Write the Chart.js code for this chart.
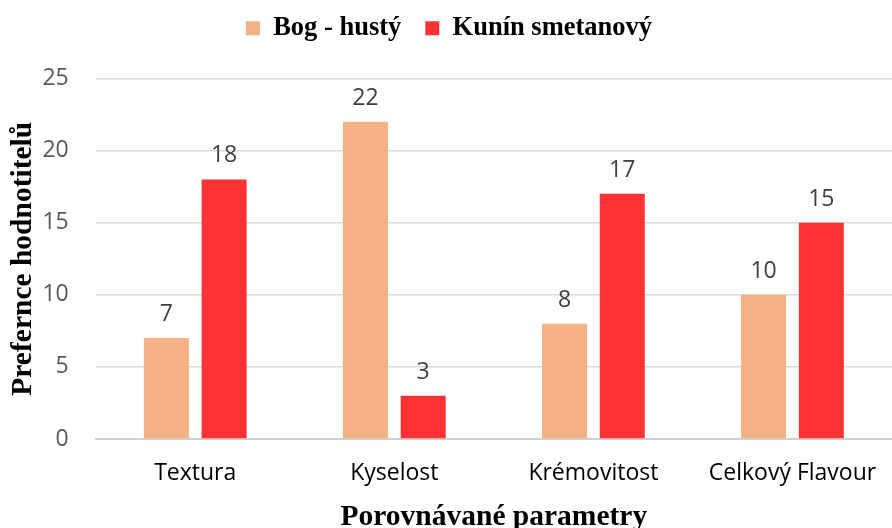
<!DOCTYPE html>
<html lang="cs">
<head>
    <meta charset="UTF-8">
    <title>Preference hodnotitelů</title>
    <script src="https://cdn.jsdelivr.net/npm/chart.js"></script>
    <style>
        html, body { margin: 0; padding: 0; background: #fff; }
        #wrap { width: 892px; height: 528px; }
    </style>
</head>
<body>

<div id="wrap"><canvas id="myChart"></canvas></div>

<script>
const categories = ['Textura', 'Kyselost', 'Krémovitost', 'Celkový Flavour'];
const bogValues = [7, 22, 8, 10];
const kuninValues = [18, 3, 17, 15];
const yTicks = [0, 5, 10, 15, 20, 25];

const sansFont = "'Open Sans', 'Noto Sans', sans-serif";
const serifFont = "'Liberation Serif', 'Times New Roman', serif";

// value labels above bars (no datalabels plugin offline)
const valueLabels = {
    id: 'valueLabels',
    afterDatasetsDraw(chart) {
        const ctx = chart.ctx;
        ctx.save();
        ctx.font = '23px ' + sansFont;
        ctx.fillStyle = '#404040';
        ctx.textAlign = 'center';
        ctx.textBaseline = 'alphabetic';
        chart.data.datasets.forEach((ds, i) => {
            chart.getDatasetMeta(i).data.forEach((bar, j) => {
                ctx.fillText(ds.data[j], bar.x, bar.y - 17);
            });
        });
        ctx.restore();
    }
};

// more room under the legend
const legendGap = {
    id: 'legendGap',
    beforeInit(chart) {
        const fit = chart.legend.fit;
        chart.legend.fit = function () {
            fit.bind(chart.legend)();
            this.height += 27;
        };
    }
};

const ctx = document.getElementById('myChart').getContext('2d');
const chart = new Chart(ctx, {
    type: 'bar',
    data: {
        labels: categories,
        datasets: [{
            label: 'Bog - hustý',
            data: bogValues,
            backgroundColor: '#F4B183',
            categoryPercentage: 0.58,
            barPercentage: 0.78
        }, {
            label: 'Kunín smetanový',
            data: kuninValues,
            backgroundColor: '#FF3333',
            categoryPercentage: 0.58,
            barPercentage: 0.78
        }]
    },
    options: {
        responsive: true,
        maintainAspectRatio: false,
        animation: false,
        layout: { padding: { top: -9, right: 0, left: 6, bottom: 0 } },
        plugins: {
            legend: {
                position: 'top',
                labels: {
                    boxWidth: 14,
                    boxHeight: 14,
                    padding: 24,
                    color: '#000',
                    font: { family: serifFont, size: 26.5, weight: 'bold' }
                }
            },
            tooltip: { enabled: false }
        },
        scales: {
            x: {
                // invisible tick marks keep the labels away from the axis
                grid: {
                    drawOnChartArea: false,
                    drawTicks: true,
                    tickLength: 11,
                    tickColor: 'rgba(0,0,0,0)'
                },
                border: { color: '#d0d0d0', width: 2 },
                ticks: {
                    color: '#000',
                    padding: 10,
                    font: { family: sansFont, size: 23 }
                },
                title: {
                    display: true,
                    text: 'Porovnávané parametry',
                    color: '#000',
                    padding: { top: 2, bottom: -7 },
                    font: { family: serifFont, size: 29.5, weight: 'bold' }
                }
            },
            y: {
                min: 0,
                max: 25,
                afterBuildTicks: axis => { axis.ticks = yTicks.map(v => ({ value: v })); },
                grid: { color: '#d9d9d9', lineWidth: 1.5, drawTicks: false },
                border: { display: false },
                ticks: {
                    color: '#595959',
                    padding: 27,
                    font: { family: sansFont, size: 23 }
                },
                title: {
                    display: true,
                    text: 'Prefernce hodnotitelů',
                    color: '#000',
                    padding: { top: 0, bottom: -26 },
                    font: { family: serifFont, size: 29.5, weight: 'bold' }
                }
            }
        }
    },
    plugins: [valueLabels, legendGap]
});
</script>

</body>
</html>
